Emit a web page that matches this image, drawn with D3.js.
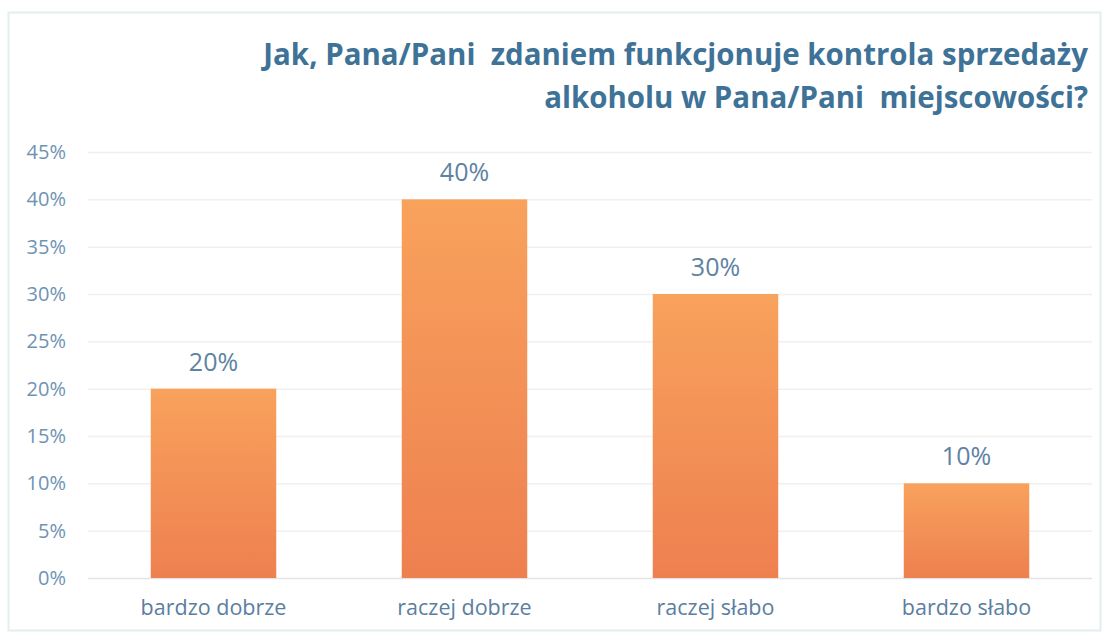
<!DOCTYPE html>
<html>
<head>
<meta charset="utf-8">
<script src="https://cdn.jsdelivr.net/npm/d3@7"></script>
<style>
  body { margin: 0; background: #fff; }
  text { font-family: "Open Sans", Lato, sans-serif; }
</style>
</head>
<body>
<div id="vis"></div>
<script>
// chart data
var categories = ["bardzo dobrze", "raczej dobrze", "raczej słabo", "bardzo słabo"];
var values     = [0.20, 0.40, 0.30, 0.10];
var yTicks     = [0, 0.05, 0.10, 0.15, 0.20, 0.25, 0.30, 0.35, 0.40, 0.45];
var titleLines = ["Jak, Pana/Pani  zdaniem funkcjonuje kontrola sprzedaży",
                  "alkoholu w Pana/Pani  miejscowości?"];

var W = 1107, H = 634;
var margin = { top: 152, right: 15, bottom: 56, left: 88 },
    width  = W - margin.left - margin.right,
    height = H - margin.top - margin.bottom;

var svg = d3.select("#vis")
  .append("svg")
  .attr("width", W)
  .attr("height", H);

var defs = svg.append("defs");
var grad = defs.append("linearGradient")
  .attr("id", "barGrad")
  .attr("x1", 0).attr("y1", 0).attr("x2", 0).attr("y2", 1);
grad.append("stop").attr("offset", "0%").attr("stop-color", "#f8a25c");
grad.append("stop").attr("offset", "100%").attr("stop-color", "#ee8050");

// outer frame
svg.append("rect")
  .attr("x", 8.5).attr("y", 12.5)
  .attr("width", 1092).attr("height", 618)
  .attr("fill", "none")
  .attr("stroke", "#e3eef0")
  .attr("stroke-width", 2);

var g = svg.append("g")
  .attr("transform", "translate(" + margin.left + "," + margin.top + ")");

var x = d3.scaleBand()
  .domain(categories)
  .range([0, width])
  .paddingInner(0.5)
  .paddingOuter(0.25);

var y = d3.scaleLinear()
  .domain([0, 0.45])
  .range([height, 0]);

// gridlines
g.append("g")
  .selectAll("line")
  .data(yTicks)
  .enter()
  .append("line")
  .attr("x1", 0).attr("x2", width)
  .attr("y1", function (d) { return y(d) + 0.5; })
  .attr("y2", function (d) { return y(d) + 0.5; })
  .attr("stroke", function (d) { return d === 0 ? "#e4e4e4" : "#f0f0f0"; })
  .attr("stroke-width", 1.5);

// y axis labels
var yAxis = d3.axisLeft(y)
  .tickValues(yTicks)
  .tickSize(0)
  .tickPadding(22)
  .tickFormat(d3.format(".0%"));

g.append("g")
  .call(yAxis)
  .call(function (a) { a.select(".domain").remove(); })
  .selectAll("text")
  .attr("font-size", 20)
  .attr("fill", "#6e93b3")
  .attr("font-family", "'Open Sans', Lato, sans-serif");

// bars
g.selectAll(".bar")
  .data(values)
  .enter()
  .append("rect")
  .attr("class", "bar")
  .attr("x", function (d, i) { return x(categories[i]); })
  .attr("y", function (d) { return y(d); })
  .attr("width", x.bandwidth())
  .attr("height", function (d) { return height - y(d); })
  .attr("fill", "url(#barGrad)");

// value labels
g.selectAll(".val")
  .data(values)
  .enter()
  .append("text")
  .attr("class", "val")
  .attr("x", function (d, i) { return x(categories[i]) + x.bandwidth() / 2; })
  .attr("y", function (d) { return y(d) - 18; })
  .attr("text-anchor", "middle")
  .attr("font-size", 25)
  .attr("fill", "#5e82a3")
  .text(function (d) { return d3.format(".0%")(d); });

// x axis labels
var xAxis = d3.axisBottom(x).tickSize(0).tickPadding(22);
g.append("g")
  .attr("transform", "translate(0," + height + ")")
  .call(xAxis)
  .call(function (a) { a.select(".domain").remove(); })
  .selectAll("text")
  .attr("font-size", 21.5)
  .attr("fill", "#5b7e9f")
  .attr("font-family", "'Open Sans', Lato, sans-serif");

// title, sized so first line spans like the original
var title = svg.append("g");
var titleY = [65, 108];
var tl = titleLines.map(function (t, i) {
  return title.append("text")
    .attr("x", 1088)
    .attr("y", titleY[i])
    .attr("text-anchor", "end")
    .attr("font-size", 26)
    .attr("font-weight", "bold")
    .attr("fill", "#3e7297")
    .style("white-space", "pre")
    .text(t);
});
var w0 = tl[0].node().getComputedTextLength();
var fs = 26 * 825 / w0;
tl.forEach(function (t) { t.attr("font-size", fs); });
</script>
</body>
</html>
